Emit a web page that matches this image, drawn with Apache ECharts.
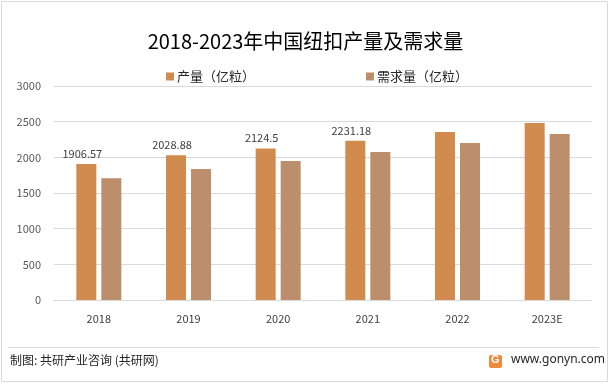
<!DOCTYPE html>
<html>
<head>
<meta charset="utf-8">
<script src="https://cdn.jsdelivr.net/npm/echarts@6/dist/echarts.min.js"></script>
<style>
html,body{margin:0;padding:0;background:#fff;}
#main{width:611px;height:385px;}
</style>
</head>
<body>
<div id="main"></div>
<script>
const categories = ['2018', '2019', '2020', '2021', '2022', '2023E'];
const production = [1906.57, 2028.88, 2124.5, 2231.18, 2355, 2481];
const demand = [1706, 1836, 1949, 2075, 2201, 2327];
const productionLabels = ['1906.57', '2028.88', '2124.5', '2231.18', '', ''];
const yTicks = [0, 500, 1000, 1500, 2000, 2500, 3000];

const FONT = '"Noto Sans CJK SC", "Microsoft YaHei", sans-serif';
const chart = echarts.init(document.getElementById('main'), null, {renderer: 'canvas'});

chart.setOption({
  animation: false,
  backgroundColor: '#ffffff',
  title: {
    text: '2018-2023年中国纽扣产量及需求量',
    left: 'center',
    top: 26,
    textStyle: {fontFamily: FONT, fontSize: 20, fontWeight: 'normal', color: '#000000'}
  },
  legend: [
    {
      data: ['产量（亿粒）'], left: 161, top: 65, icon: 'rect', itemWidth: 8, itemHeight: 8, itemGap: 4,
      textStyle: {fontFamily: FONT, fontSize: 13, color: '#262626', padding: [0,0,0,-2]}
    },
    {
      data: ['需求量（亿粒）'], left: 361, top: 65, icon: 'rect', itemWidth: 8, itemHeight: 8, itemGap: 4,
      textStyle: {fontFamily: FONT, fontSize: 13, color: '#262626', padding: [0,0,0,-2]}
    }
  ],
  grid: {left: 54, right: 19, top: 86, bottom: 85, containLabel: false},
  xAxis: {
    type: 'category',
    data: categories,
    axisTick: {show: false},
    axisLine: {show: true, lineStyle: {color: '#d9d9d9', width: 1}},
    axisLabel: {fontFamily: FONT, fontSize: 11, color: '#404040', margin: 13}
  },
  yAxis: {
    type: 'value',
    min: yTicks[0],
    max: yTicks[yTicks.length - 1],
    interval: yTicks[1] - yTicks[0],
    axisLine: {show: false},
    axisTick: {show: false},
    splitLine: {lineStyle: {color: '#d9d9d9', width: 1}},
    axisLabel: {fontFamily: FONT, fontSize: 11, color: '#595959', margin: 13, formatter: v => String(v)}
  },
  series: [
    {
      name: '产量（亿粒）',
      type: 'bar',
      data: production,
      barWidth: 20,
      barGap: '25%',
      itemStyle: {color: '#D28B4E'},
      label: {
        show: true,
        position: 'top',
        distance: 5,
        offset: [-4, 0],
        fontFamily: FONT,
        fontSize: 11,
        color: '#404040',
        formatter: p => productionLabels[p.dataIndex]
      }
    },
    {
      name: '需求量（亿粒）',
      type: 'bar',
      data: demand,
      barWidth: 20,
      itemStyle: {color: '#BC8E6C'}
    }
  ],
  graphic: [
    {type: 'rect', shape: {x: 1.5, y: 1.5, width: 606, height: 380}, style: {fill: 'none', stroke: '#d9d9d9', lineWidth: 1}, silent: true},
    {type: 'line', shape: {x1: 8, y1: 347.5, x2: 599, y2: 347.5}, style: {stroke: '#d9d9d9', lineWidth: 1}},
    {type: 'text', left: 10, top: 354, style: {text: '制图: 共研产业咨询 (共研网)', font: '12px ' + FONT, fill: '#262626'}},
    {type: 'rect', shape: {x: 489, y: 355, width: 13, height: 13, r: 2}, style: {fill: '#F0883A'}},
    {type: 'text', left: 491, top: 354, style: {text: 'G', font: 'bold 11px sans-serif', fill: '#ffffff'}},
    {type: 'text', left: 511, top: 354, style: {text: 'www.gonyn.com', font: '12px "Noto Sans", sans-serif', fill: '#262626'}}
  ]
});
</script>
</body>
</html>
